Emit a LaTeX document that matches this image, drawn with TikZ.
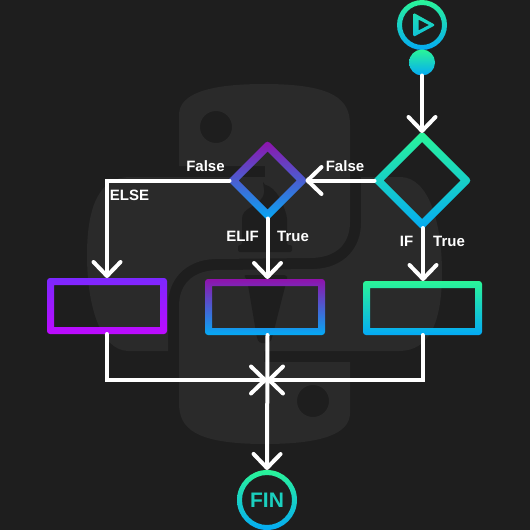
\documentclass[tikz,border=0pt]{standalone}
\usepackage{fontspec}
\setmainfont{Liberation Sans}
\usetikzlibrary{arrows.meta,shapes.geometric}
\definecolor{bgdark}{RGB}{30,30,30}
\definecolor{logogrey}{RGB}{42,42,42}
\definecolor{mint}{RGB}{42,245,152}
\definecolor{sky}{RGB}{4,170,245}
\definecolor{plum}{RGB}{144,18,172}
\definecolor{violet}{RGB}{124,40,255}
\definecolor{magenta}{RGB}{190,10,255}
\definecolor{teal}{RGB}{27,207,190}
\tikzset{
  slot/.style={inner sep=0pt,outer sep=0pt,minimum width=#1,minimum height=#1},
  flowline/.style={draw=white,line width=4pt,line cap=round,
    -{Straight Barb[length=14pt,width=27pt,round]}},
  lbl/.style={text=white,font=\bfseries\fontsize{15}{15}\selectfont,inner sep=0pt},
}
\newcommand{\pysnake}{\fill[logogrey,even odd rule] (264,84) .. controls (335,84) and (350,100) .. (350,125)
  -- (350,222) .. controls (350,245) and (335,258) .. (310,258) -- (215,259)
  .. controls (185,260) and (168,280) .. (168,305) -- (168,351) -- (128,351)
  .. controls (100,350) and (87,305) .. (87,255) .. controls (87,205) and (100,177) .. (130,177)
  -- (265,177) -- (265,166) -- (179,166) -- (179,115) .. controls (179,95) and (205,84) .. (264,84) -- cycle
  (216,127) circle (16);}
\newcommand{\gradbox}[7]{
  \node[slot,minimum width=#4pt,minimum height=#5pt] (#1) at (#2,#3) {};
  \shade[top color=#6,bottom color=#7,even odd rule] [rounded corners=3pt] (#1.north west) rectangle (#1.south east)
    [sharp corners] ([shift={(7,7)}]#1.north west) rectangle ([shift={(-7,-7)}]#1.south east);
}
\newcommand{\gradring}[5]{
  \node[slot=#4*2pt,circle] (#1) at (#2,#3) {};
  \shade[top color=mint,bottom color=sky,even odd rule] (#1) circle (#4) (#1) circle (#4-#5);
}
\newcommand{\graddiamond}[6]{
  \node[slot=(#4-2)*2pt,diamond,aspect=1] (#1) at (#2,#3) {};
  \shade[top color=#5,bottom color=#6,even odd rule] [rounded corners=3pt]
    (#2,#3-#4) -- (#2+#4,#3) -- (#2,#3+#4) -- (#2-#4,#3) -- cycle
    [sharp corners] (#2,#3-#4+11) -- (#2+#4-11,#3) -- (#2,#3+#4-11) -- (#2-#4+11,#3) -- cycle;
}
\begin{document}
\begin{tikzpicture}[x=1pt,y=-1pt]
\fill[bgdark] (0,0) rectangle (530,530);
\useasboundingbox (0,0) rectangle (530,530);
% logo behind the chart
\pysnake
\begin{scope}[shift={(529,528)},x=-1pt,y=1pt]
  \pysnake
\end{scope}
\fill[bgdark,rounded corners=2pt] (263,184) .. controls (277,188) and (283,203) .. (287,217) -- (287,245) -- (292,245) -- (292,252)
  -- (238,252) -- (238,245) -- (242,245) -- (242,217) .. controls (246,205) and (268,205) .. (263,184) -- cycle;
\fill[bgdark,rounded corners=3pt] (243,275) -- (287,275) -- (287,279) -- (272,338) -- (270,343) -- (259,343) -- (257,338) -- (247,279) -- cycle;
% shapes
\gradring{startring}{422}{25}{25}{5}
\node[slot=26pt,circle] (startdot) at (422,62.5) {};
\shade[top color=mint,bottom color=sky] (startdot) circle (13);
\shade[top color=mint!70!sky,bottom color=sky!70!mint,even odd rule] [rounded corners=1.5pt] (413.3,12.7) -- (435.5,25) -- (413.3,37) -- cycle
  [sharp corners] (418.5,19.5) -- (429,25) -- (418.5,30.5) -- cycle;
\graddiamond{ifdec}{422}{180.5}{49.5}{mint}{sky}
\graddiamond{elifdec}{267.5}{180.5}{40}{plum}{sky}
\gradbox{elsebox}{107}{306}{120}{56}{violet}{magenta}
\gradbox{elifbox}{265}{307}{120}{56}{plum}{sky}
\gradbox{ifbox}{422.5}{308}{119}{54}{mint}{sky}
\gradring{finring}{267}{500}{30}{5}
\node[text=teal,font=\bfseries\fontsize{21}{21}\selectfont,inner sep=0pt] (fintxt) at (267,500) {FIN};
\coordinate (joinpt) at (267,380);
% connectors
\draw[flowline] (startdot.south) -- (ifdec.north);
\draw[flowline] (ifdec.west) -- (elifdec.east);
\draw[flowline] (elifdec.west) -| (elsebox.north);
\draw[flowline] ([xshift=1pt]ifdec.south) -- ([xshift=1pt]ifdec.south |- ifbox.north);
\draw[flowline] (elifdec.south) -- (elifdec.south |- elifbox.north);
\draw[flowline] (elsebox.south) |- (joinpt);
\draw[flowline] (ifbox.south) |- (joinpt);
\draw[flowline] (elifdec.south |- elifbox.south) -- (finring.north);
% labels
\node[lbl] (falseb) at (205.5,166) {False};
\node[lbl] (falsea) at (345,166) {False};
\node[lbl] (elselbl) at (129.5,195) {ELSE};
\node[lbl] (eliflbl) at (242.5,236) {ELIF};
\node[lbl] (trueb) at (293,236) {True};
\node[lbl] (iflbl) at (406.5,241) {IF};
\node[lbl] (truea) at (449,241) {True};
\end{tikzpicture}
\end{document}
